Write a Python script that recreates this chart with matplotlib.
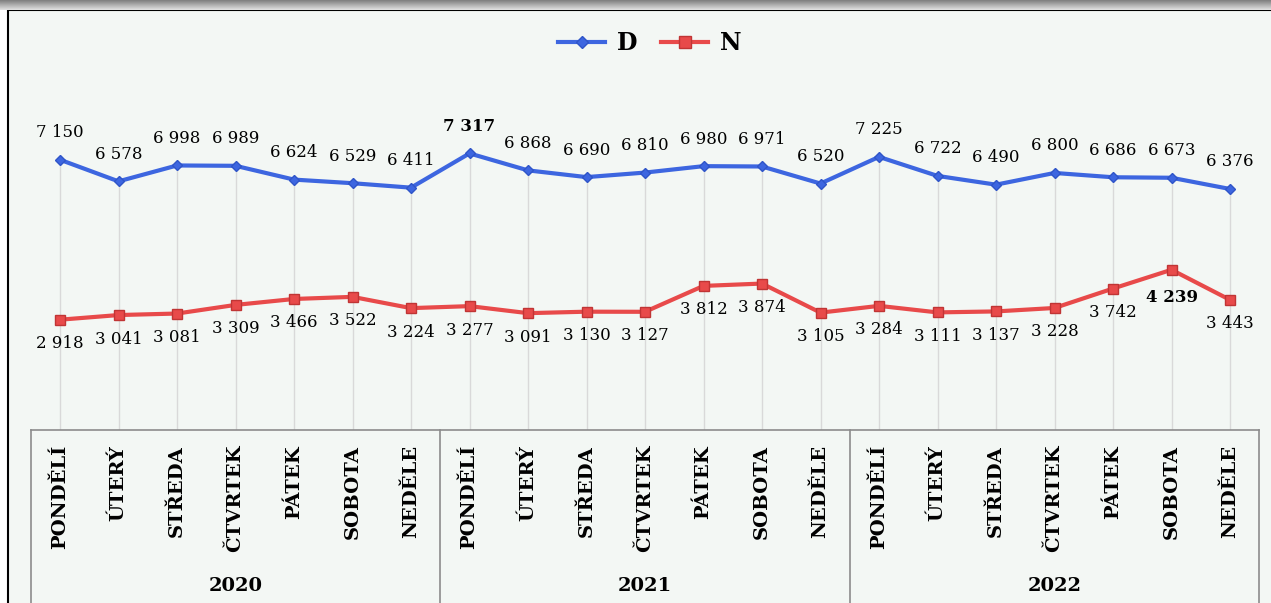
import numpy as np
import matplotlib.pyplot as plt
from matplotlib.lines import Line2D
from matplotlib.patches import Rectangle

# D and N counts by weekday, 2020-2022
years = ["2020", "2021", "2022"]
days = ["PONDĚLÍ", "ÚTERÝ", "STŘEDA", "ČTVRTEK", "PÁTEK", "SOBOTA", "NEDĚLE"]
d_values = [7150, 6578, 6998, 6989, 6624, 6529, 6411,
            7317, 6868, 6690, 6810, 6980, 6971, 6520,
            7225, 6722, 6490, 6800, 6686, 6673, 6376]
n_values = [2918, 3041, 3081, 3309, 3466, 3522, 3224,
            3277, 3091, 3130, 3127, 3812, 3874, 3105,
            3284, 3111, 3137, 3228, 3742, 4239, 3443]

W, H = 1271, 603
BG = "#f3f7f4"
BLUE = "#3d66e0"
RED = "#e84a4a"
GRID = "#d9d9d9"
FRAME = "#8c8c8c"
plt.rcParams['font.family'] = ['DejaVu Serif']

fig = plt.figure(figsize=(W / 100, H / 100), dpi=100)
fig.patch.set_facecolor("white")

# chart frame behind everything, shadow strip on top
fig.patches.append(Rectangle((8 / W, -0.01), 1.0, 1 - 10 / H + 0.01,
                             transform=fig.transFigure, facecolor=BG,
                             edgecolor="black", linewidth=1.5, zorder=-5))
sh = fig.add_axes([0, 1 - 10 / H, 1, 10 / H])
grad = np.linspace(0.5, 0.88, 20).reshape(-1, 1)
sh.imshow(grad, aspect="auto", cmap="gray", vmin=0, vmax=1, extent=[0, 1, 0, 1])
sh.axis("off")

# plot area: value 0 sits at y=430 px, 8730 at y=100 px
top_px, bot_px = 100, 430
left_px, right_px = 30.75, 1259.25
ax = fig.add_axes([left_px / W, 1 - bot_px / H, (right_px - left_px) / W,
                   (bot_px - top_px) / H])
ax.set_facecolor("none")
ax.set_xlim(-0.5, len(d_values) - 0.5)
ax.set_ylim(0, 8730)
for s in ["top", "left", "right"]:
    ax.spines[s].set_visible(False)
ax.spines["bottom"].set_color(FRAME)
ax.spines["bottom"].set_linewidth(1.2)
ax.set_xticks([])
ax.set_yticks([])

x = np.arange(len(d_values))

# drop lines from the upper series down to the axis
ax.vlines(x, 0, d_values, color=GRID, linewidth=1, zorder=1)

ax.plot(x, d_values, color=BLUE, linewidth=3, marker="D", markersize=5,
        markerfacecolor=BLUE, markeredgecolor="#2f55c8", zorder=3)
ax.plot(x, n_values, color=RED, linewidth=3, marker="s", markersize=7,
        markerfacecolor=RED, markeredgecolor="#c03535", zorder=3)


def fmt(v):
    return f"{v:,}".replace(",", " ")


d_max = int(np.argmax(d_values))
n_max = int(np.argmax(n_values))
for i, v in enumerate(d_values):
    ax.annotate(fmt(v), (i, v), xytext=(0, 27), textcoords="offset pixels",
                ha="center", va="center", fontsize=12,
                fontweight="bold" if i == d_max else "normal")
for i, v in enumerate(n_values):
    off = -28 if i == n_max else -24
    ax.annotate(fmt(v), (i, v), xytext=(0, off), textcoords="offset pixels",
                ha="center", va="center", fontsize=12,
                fontweight="bold" if i == n_max else "normal")


# category table below the axis
def fy(px):
    return (bot_px - px) / (bot_px - top_px)


tr = ax.get_xaxis_transform()
for xb in [-0.5, 6.5, 13.5, len(d_values) - 0.5]:
    ax.plot([xb, xb], [0, fy(610)], transform=tr, color=FRAME,
            linewidth=1.2, clip_on=False)

for i in x:
    ax.text(i, fy(445), days[i % 7], transform=tr, rotation=90,
            ha="center", va="top", fontsize=14, fontweight="bold")
for k, yr in enumerate(years):
    ax.text(k * 7 + 3, fy(586), yr, transform=tr, ha="center", va="center",
            fontsize=14, fontweight="bold")

handles = [
    Line2D([], [], color=BLUE, linewidth=3, marker="D", markersize=6,
           markeredgecolor="#2f55c8"),
    Line2D([], [], color=RED, linewidth=3, marker="s", markersize=8,
           markeredgecolor="#c03535"),
]
fig.legend(handles, ["D", "N"], loc="center", bbox_to_anchor=(650 / W, 1 - 43 / H),
           ncol=2, frameon=False, handlelength=2.0, columnspacing=1.0,
           handletextpad=0.5, prop={"weight": "bold", "size": 17})

fig.savefig("out.png", dpi=100, facecolor=fig.get_facecolor())
